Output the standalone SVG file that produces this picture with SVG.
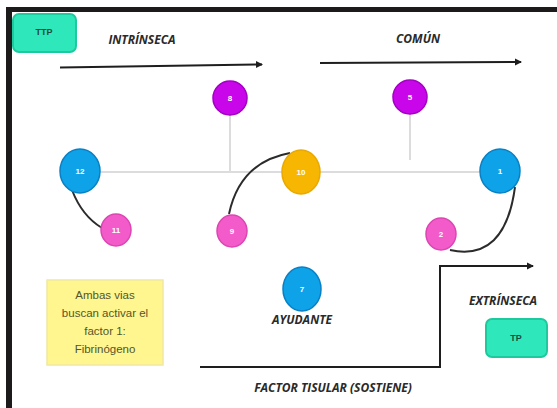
<svg xmlns="http://www.w3.org/2000/svg" width="557" height="408" viewBox="0 0 557 408">
<defs>
<style>
.n text{font-family:"Liberation Sans",Arial,sans-serif;font-size:8px;font-weight:bold;fill:#fff;text-anchor:middle;dominant-baseline:central}
.blue{fill:#0ea3e8;stroke:#0a80c4;stroke-width:1.5}
.pink{fill:#f25bc9;stroke:#dc46b2;stroke-width:1.5}
.purple{fill:#c905ea;stroke:#a300c4;stroke-width:1.5}
.orange{fill:#f7b602;stroke:#e9a900;stroke-width:1.5}
.lbl{font-family:"Open Sans","Liberation Sans",sans-serif;font-size:12px;font-weight:bold;font-style:italic;fill:#2a2a2a;text-anchor:middle}
.tag{fill:#2ee8bb;stroke:#1fc99e;stroke-width:2}
.tagt{font-family:"Liberation Sans",Arial,sans-serif;font-size:9px;font-weight:bold;fill:#1d4a40;text-anchor:middle;dominant-baseline:central}
.gray{stroke:#dcdcdc;stroke-width:2;fill:none}
.curve{stroke:#2b2b2b;stroke-width:2;fill:none}
.arrow{stroke:#1e1e1e;stroke-width:2;fill:none}
.note{font-family:"Liberation Sans",Arial,sans-serif;font-size:11.5px;fill:#55552c;text-anchor:middle}
</style>
<marker id="ah" markerWidth="8" markerHeight="8" refX="6" refY="4" orient="auto" markerUnits="userSpaceOnUse">
<path d="M0,0.5 L7,4 L0,7.5 Z" fill="#1e1e1e"/>
</marker>
</defs>
<rect width="557" height="408" fill="#fff"/>
<rect x="6" y="7" width="551" height="5" fill="#1c1a1a"/>
<rect x="6" y="7" width="6" height="401" fill="#1c1a1a"/>

<g id="connectors">
<line class="gray" x1="100" y1="172" x2="480" y2="172"/>
<line class="gray" x1="230" y1="115" x2="230" y2="172"/>
<line class="gray" x1="410" y1="114" x2="410" y2="160"/>
<path class="curve" d="M72,190 Q82,216 102,228"/>
<path class="curve" d="M229,214 Q240,162 290,153"/>
<path class="curve" d="M515,187 Q505,262 450,250"/>
<path class="arrow" d="M60,67.5 L262,64.5" marker-end="url(#ah)"/>
<path class="arrow" d="M320,63 L521,62" marker-end="url(#ah)"/>
<path class="arrow" d="M200,367 L440,367 L440,266 L533,266" marker-end="url(#ah)"/>
</g>

<g id="ttp"><rect class="tag" x="13" y="14" width="63" height="38" rx="6"/><text class="tagt" x="44" y="32">TTP</text></g>
<g id="tp"><rect class="tag" x="486" y="319" width="61" height="38" rx="6"/><text class="tagt" x="516" y="338">TP</text></g>

<text class="lbl" x="142" y="44">INTRÍNSECA</text>
<text class="lbl" x="418" y="43">COMÚN</text>
<text class="lbl" x="302" y="324">AYUDANTE</text>
<text class="lbl" x="503" y="305">EXTRÍNSECA</text>
<text class="lbl" x="333" y="392">FACTOR TISULAR (SOSTIENE)</text>

<g id="n8" class="n"><circle class="purple" cx="230" cy="98" r="17"/><text x="230" y="98">8</text></g>
<g id="n5" class="n"><circle class="purple" cx="410" cy="97" r="17"/><text x="410" y="97">5</text></g>
<g id="n12" class="n"><ellipse class="blue" cx="80" cy="171" rx="20" ry="22"/><text x="80" y="171">12</text></g>
<g id="n10" class="n"><ellipse class="orange" cx="301" cy="172" rx="19" ry="22"/><text x="301" y="172">10</text></g>
<g id="n1" class="n"><ellipse class="blue" cx="500" cy="171" rx="20" ry="22"/><text x="500" y="171">1</text></g>
<g id="n11" class="n"><ellipse class="pink" cx="116" cy="230" rx="15" ry="16"/><text x="116" y="230">11</text></g>
<g id="n9" class="n"><ellipse class="pink" cx="232" cy="231" rx="15" ry="16"/><text x="232" y="231">9</text></g>
<g id="n2" class="n"><ellipse class="pink" cx="441" cy="234" rx="15" ry="16"/><text x="441" y="234">2</text></g>
<g id="n7" class="n"><ellipse class="blue" cx="302" cy="289" rx="19" ry="22"/><text x="302" y="289">7</text></g>

<g id="note">
<rect x="47" y="280" width="116" height="85" fill="#fff68f" stroke="#f0e9a0" stroke-width="1.5"/>
<text class="note" x="105" y="299">Ambas vias</text>
<text class="note" x="105" y="317">buscan activar el</text>
<text class="note" x="105" y="335">factor 1:</text>
<text class="note" x="105" y="353">Fibrinógeno</text>
</g>
</svg>
